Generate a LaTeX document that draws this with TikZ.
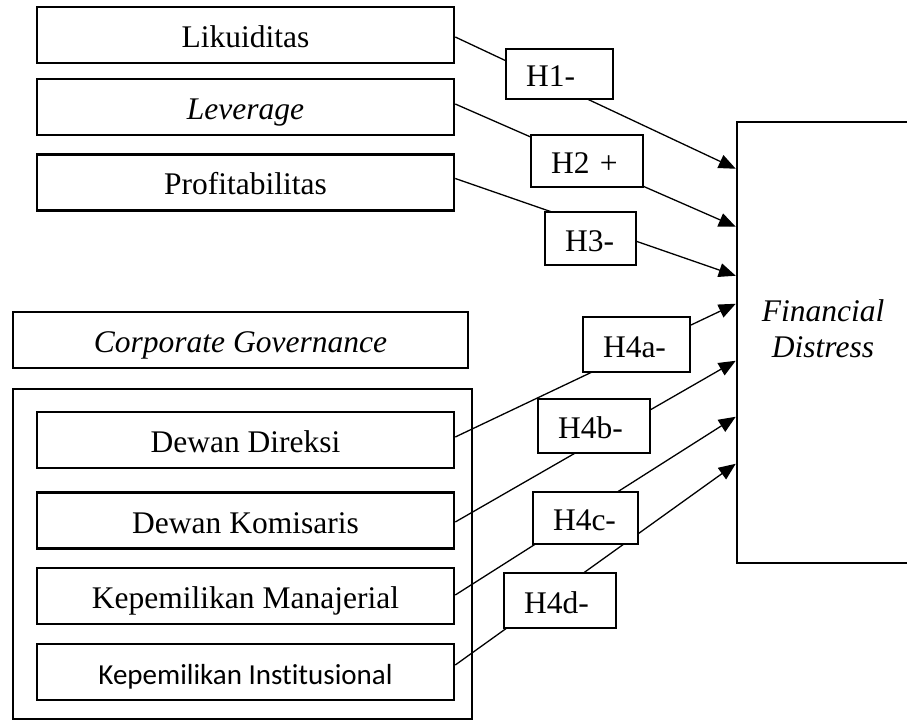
\documentclass[tikz,border=0pt]{standalone}
\usepackage{fontspec}
\setmainfont[Ligatures=NoCommon]{Liberation Serif}
\newfontfamily\calibrifont[Ligatures=NoCommon]{Carlito}
\usetikzlibrary{arrows.meta,calc}
\begin{document}
\begin{tikzpicture}[x=1pt,y=-1pt,
  every node/.style={font=\fontsize{31.5}{36}\selectfont},
  varbox/.style={draw, line width=2.5pt, minimum width=417pt, minimum height=56pt,
    text height=28pt, text depth=3pt, inner sep=0pt},
  hbox/.style={draw, fill=white, line width=1.4pt, align=left, inner xsep=20pt,
    inner ysep=0pt, text height=28pt, text depth=3pt},
  conn/.style={line width=1.3pt, -{Triangle[length=17pt,width=14pt]}}]
\useasboundingbox (0,0) rectangle (907,722);

% variable boxes
\node[varbox] (lik) at (245.5,35) {Likuiditas};
\node[varbox] (lev) at (245.5,107) {\itshape Leverage};
\node[varbox] (pro) at (245.5,182.5) {Profitabilitas};
\node[varbox, minimum width=455pt] (cg) at (240.5,340) {\itshape Corporate Governance};
\node[draw, line width=2.5pt, minimum width=459pt, minimum height=330pt, inner sep=0pt] (grp) at (242.5,554) {};
\node[varbox] (dd) at (245.5,440) {Dewan Direksi};
\node[varbox] (dk) at (245.5,520.5) {Dewan Komisaris};
\node[varbox] (km) at (245.5,596) {Kepemilikan Manajerial};
\node[varbox, font=\calibrifont\fontsize{29}{34}\selectfont] (ki) at (245.5,672) {Kepemilikan Institusional};

% dependent variable (its right side lies beyond the frame)
\node[draw, line width=2.5pt, minimum width=190pt, minimum height=441pt, inner sep=0pt] (fd) at (832,342.5) {};
\node[align=center, font=\fontsize{31.5}{36}\selectfont\itshape] (fdtext) at (823,329) {Financial\\Distress};

% arrow end points on the left side of fd
\coordinate (e1) at ($(fd.north west)+(0,48)$);
\coordinate (e2) at ($(fd.north west)+(0,106)$);
\coordinate (e3) at ($(fd.north west)+(0,155)$);
\coordinate (e4) at ($(fd.north west)+(0,183)$);
\coordinate (e5) at ($(fd.north west)+(0,240)$);
\coordinate (e6) at ($(fd.north west)+(0,296)$);
\coordinate (e7) at ($(fd.north west)+(0,343)$);

% connectors
\draw[conn] ($(lik.east)+(0,2)$) -- (e1);
\draw[conn] ($(lev.east)+(0,-3)$) -- (e2);
\draw[conn] ($(pro.east)+(0,-4)$) -- (e3);
\draw[conn] ($(dd.east)+(0,-3)$) -- (e4);
\draw[conn] ($(dk.east)+(0,1.5)$) -- (e5);
\draw[conn] ($(km.east)+(0,-1)$) -- (e6);
\draw[conn] ($(ki.east)+(0,-7)$) -- (e7);

% hypothesis labels
\node[hbox, text width=67pt, minimum height=50pt] (h1) at (559.5,74) {H1-};
\node[hbox, text width=72pt, minimum height=52pt] (h2) at (587,161) {H2 +};
\node[hbox, text width=51pt, minimum height=53pt] (h3) at (590.5,238.5) {H3-};
\node[hbox, text width=67pt, minimum height=55pt] (h4a) at (636.5,344.5) {H4a-};
\node[hbox, text width=72pt, minimum height=54pt] (h4b) at (594,426) {H4b-};
\node[hbox, text width=65pt, minimum height=52pt] (h4c) at (585.5,518) {H4c-};
\node[hbox, text width=72pt, minimum height=55pt] (h4d) at (560,600.5) {H4d-};
\end{tikzpicture}
\end{document}
